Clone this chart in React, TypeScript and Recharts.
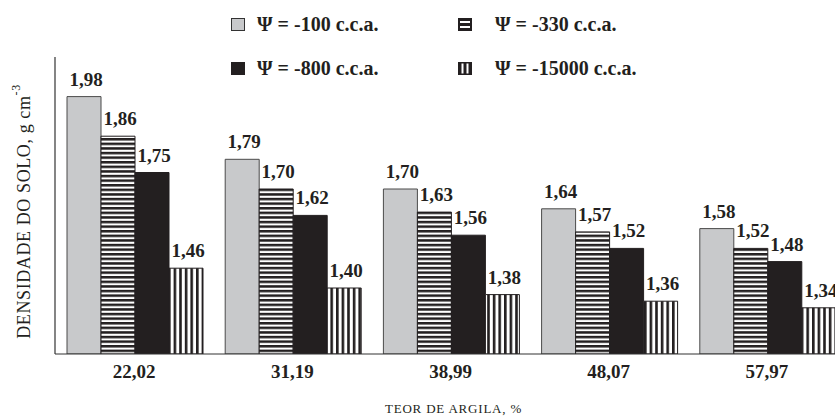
import { BarChart, Bar, XAxis, YAxis, Legend, LabelList } from 'recharts'

const categories = ['22,02', '31,19', '38,99', '48,07', '57,97']
const psi100 = [1.98, 1.79, 1.7, 1.64, 1.58]
const psi330 = [1.86, 1.7, 1.63, 1.57, 1.52]
const psi800 = [1.75, 1.62, 1.56, 1.52, 1.48]
const psi15000 = [1.46, 1.4, 1.38, 1.36, 1.34]

const seriesNames = ['Ψ = -100 c.c.a.', 'Ψ = -330 c.c.a.', 'Ψ = -800 c.c.a.', 'Ψ = -15000 c.c.a.']

const data = categories.map((c, i) => ({
  teor: c,
  s100: psi100[i],
  s330: psi330[i],
  s800: psi800[i],
  s15000: psi15000[i],
}))

const serif = '"Liberation Serif", "Times New Roman", serif'
const fmt = (v: number) => v.toFixed(2).replace('.', ',')

const ValueLabel = (props: any) => {
  const { x, y, width, value } = props
  return (
    <text x={x + width / 2 + 2} y={y - 11} textAnchor="middle" fontFamily={serif} fontWeight="bold" fontSize={19} fill="#231f20">
      {fmt(value)}
    </text>
  )
}

const Patterns = () => (
  <svg width={0} height={0} style={{ position: 'absolute' }}>
    <defs>
      <pattern id="hstripe" patternUnits="userSpaceOnUse" width={8} height={4.6}>
        <rect width={8} height={4.6} fill="#fff" />
        <rect width={8} height={2.5} fill="#231f20" />
      </pattern>
      <pattern id="vstripe" patternUnits="userSpaceOnUse" width={5.6} height={8}>
        <rect width={5.6} height={8} fill="#fff" />
        <rect width={2.6} height={8} fill="#231f20" />
      </pattern>
    </defs>
  </svg>
)

const LegendIcon = ({ kind }: { kind: number }) => {
  if (kind === 0) return <svg width={14} height={13}><rect x={0.5} y={0.5} width={13} height={12} fill="#c8c9cb" stroke="#333" /></svg>
  if (kind === 2) return <svg width={14} height={13}><rect x={0} y={0} width={14} height={13} fill="#231f20" /></svg>
  if (kind === 1)
    return (
      <svg width={14} height={13}>
        <rect x={0} y={0} width={14} height={13} fill="#231f20" />
        <rect x={2} y={3} width={10} height={2} fill="#fff" />
        <rect x={2} y={8} width={10} height={2} fill="#fff" />
      </svg>
    )
  return (
    <svg width={14} height={13}>
      <rect x={0} y={0} width={14} height={13} fill="#231f20" />
      <rect x={3.5} y={1.5} width={2} height={10} fill="#fff" />
      <rect x={8.5} y={1.5} width={2} height={10} fill="#fff" />
    </svg>
  )
}

const legendPos = [
  { left: 231, top: 17 },
  { left: 458, top: 17 },
  { left: 231, top: 61 },
  { left: 458, top: 61 },
]

// zero-height box so the legend does not push the plot down
const CustomLegend = () => (
  <div style={{ position: 'relative', width: 835, height: 0 }}>
    {seriesNames.map((n, i) => (
      <div key={n} style={{ position: 'absolute', left: legendPos[i].left, top: legendPos[i].top, display: 'flex', alignItems: 'center', whiteSpace: 'nowrap' }}>
        <LegendIcon kind={i} />
        <span style={{ marginLeft: i % 2 === 0 ? 12 : 23, fontFamily: serif, fontWeight: 'bold', fontSize: 20, color: '#231f20', lineHeight: '14px' }}>{n}</span>
      </div>
    ))}
  </div>
)

const YTitle = (props: any) => {
  const { viewBox } = props
  const cx = viewBox.x + viewBox.width - 31
  const cy = viewBox.y + viewBox.height / 2 + 6
  return (
    <text x={cx} y={cy} transform={`rotate(-90, ${cx}, ${cy})`} textAnchor="middle" fontFamily={serif} fontSize={18} letterSpacing={0.6} fill="#231f20" dominantBaseline="central">
      DENSIDADE DO SOLO, g cm<tspan dy={-8} fontSize={12}>-3</tspan>
    </text>
  )
}

const XTitle = (props: any) => {
  const { viewBox } = props
  return (
    <text x={viewBox.x + viewBox.width / 2 + 3} y={viewBox.y + viewBox.height + 19} textAnchor="middle" fontFamily={serif} fontSize={13} letterSpacing={0.8} fill="#231f20">
      TEOR DE ARGILA, %
    </text>
  )
}

export default function App() {
  return (
    <div style={{ position: 'absolute', left: 0, top: 0, width: 835, height: 419, overflow: 'hidden', background: '#fff' }}>
      <Patterns />
      <BarChart width={850} height={419} data={data} margin={{ top: 57, right: 4, left: 52, bottom: 25 }} barCategoryGap={12} barGap={0}>
        <XAxis
          dataKey="teor"
          height={40}
          axisLine={{ stroke: '#333', strokeWidth: 1.2 }}
          tickLine={false}
          tickSize={6}
          tickMargin={5}
          tick={{ fontFamily: serif, fontWeight: 'bold', fontSize: 19, fill: '#231f20' }}
          label={<XTitle />}
        />
        <YAxis
          type="number"
          domain={[1.2, 2.1]}
          allowDataOverflow
          width={3}
          tickLine={false}
          tickFormatter={() => ''}
          stroke="#333"
          axisLine={{ stroke: '#333', strokeWidth: 1.2 }}
          label={<YTitle />}
        />
        <Legend verticalAlign="top" wrapperStyle={{ position: 'absolute', top: 0, left: 0, height: 0 }} content={<CustomLegend />} />
        <Bar dataKey="s100" name={seriesNames[0]} fill="#c8c9cb" stroke="#4a4a4a" strokeWidth={1} isAnimationActive={false}>
          <LabelList dataKey="s100" content={<ValueLabel />} />
        </Bar>
        <Bar dataKey="s330" name={seriesNames[1]} fill="url(#hstripe)" stroke="#231f20" strokeWidth={1} isAnimationActive={false}>
          <LabelList dataKey="s330" content={<ValueLabel />} />
        </Bar>
        <Bar dataKey="s800" name={seriesNames[2]} fill="#231f20" stroke="#231f20" strokeWidth={1} isAnimationActive={false}>
          <LabelList dataKey="s800" content={<ValueLabel />} />
        </Bar>
        <Bar dataKey="s15000" name={seriesNames[3]} fill="url(#vstripe)" stroke="#231f20" strokeWidth={1} isAnimationActive={false}>
          <LabelList dataKey="s15000" content={<ValueLabel />} />
        </Bar>
      </BarChart>
    </div>
  )
}
